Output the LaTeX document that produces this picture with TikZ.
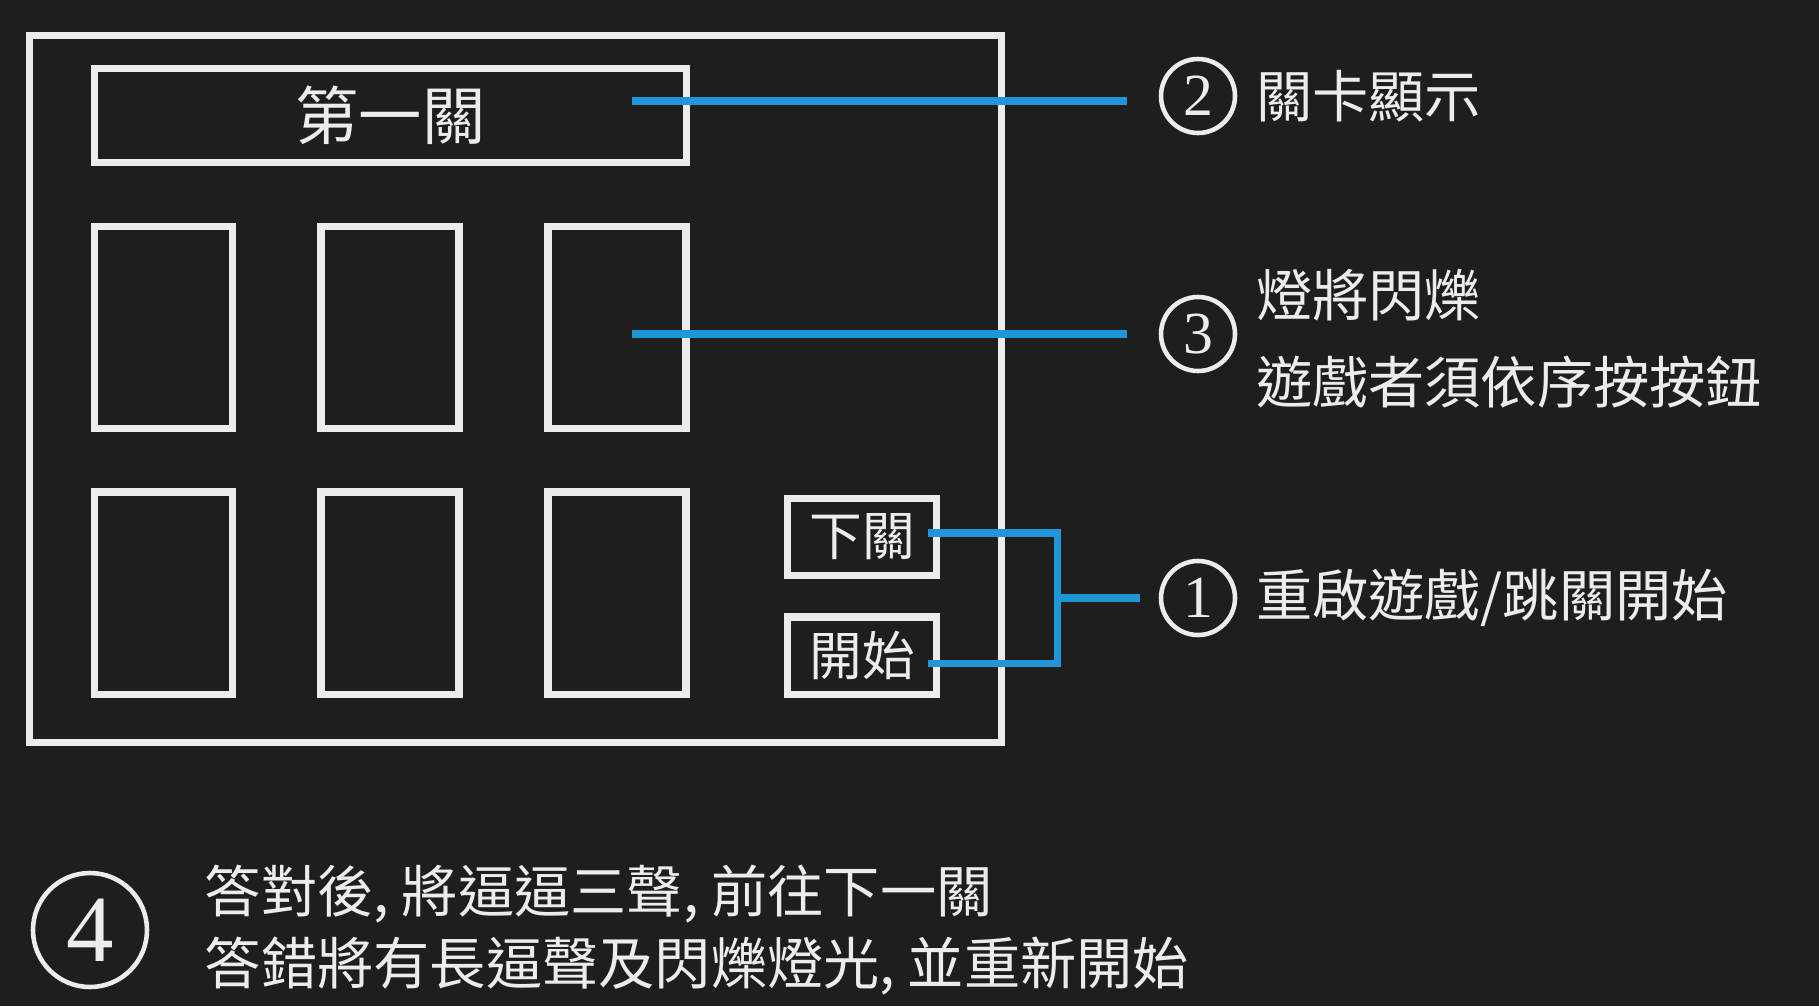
\documentclass[tikz,border=0pt]{standalone}
\usepackage{xcolor}
\usepackage{fontspec}
\newfontfamily\cjk{Noto Sans CJK TC}
\newfontfamily\numfont{Liberation Serif}
\definecolor{board}{RGB}{30,30,30}
\definecolor{chalk}{RGB}{236,236,236}
\definecolor{wireblue}{RGB}{32,150,214}
\usetikzlibrary{calc}
\usetikzlibrary{positioning}

\begin{document}
\begin{tikzpicture}[x=1cm, y=1cm,
    panel/.style={draw=chalk, line width=2pt},
    lamp/.style={panel, minimum width=1.38cm, minimum height=2.02cm},
    key/.style={panel, text=chalk, inner sep=0pt, minimum width=1.49cm, minimum height=0.77cm,
        font=\cjk\fontsize{15}{15}\selectfont},
    wire/.style={draw=wireblue, line width=2pt},
    badge/.style={circle, draw=chalk, line width=1.3pt, text=chalk, inner sep=0pt, minimum size=0.74cm,
        font=\numfont\fontsize{17}{17}\selectfont},
    note/.style={text=chalk, align=left, inner sep=0pt, font=\cjk\fontsize{16}{24.7}\selectfont}]

    \fill [board] (0, 0) rectangle (18.19, 10.06);
    \useasboundingbox (0, 0) rectangle (18.19, 10.06);

    \node [panel, minimum width=9.72cm, minimum height=7.07cm] (box) at (5.155, 6.17) {};
    \node [panel, text=chalk, minimum width=5.92cm, minimum height=0.94cm,
        font=\cjk\fontsize{18}{18}\selectfont] (lvl) at (3.905, 8.905) {第一關};

    \node [lamp] (a1) at (1.635, 6.785) {};
    \node [lamp] (a2) at (3.90, 6.785) {};
    \node [lamp] (a3) at (6.17, 6.785) {};
    \node [lamp] (b1) at (1.635, 4.13) {};
    \node [lamp] (b2) at (3.90, 4.13) {};
    \node [lamp] (b3) at (6.17, 4.13) {};

    \node [key] (nxt) at (8.62, 4.69) {下關};
    \node [key] (go) at (8.62, 3.505) {開始};

    \node [badge] (n2) at (11.98, 9.10) {2};
    \node [badge] (n3) at (11.98, 6.72) {3};
    \node [badge] (n1) at (11.98, 4.08) {1};
    \node [badge, minimum size=1.14cm, font=\numfont\fontsize{27}{27}\selectfont] (n4) at (0.90, 0.76) {4};

    \node [note, right=1.8mm of n2] (t2) {關卡顯示};
    \node [note, right=1.8mm of n3, yshift=-0.5mm] (t3) {燈將閃爍\\遊戲者須依序按按鈕};
    \node [note, right=1.8mm of n1] (t1) {重啟遊戲/跳關開始};
    \node [note, right=5.5mm of n4, font=\cjk\fontsize{16}{20.7}\selectfont] (t4)
        {答對後, 將逼逼三聲, 前往下一關\\答錯將有長逼聲及閃爍燈光, 並重新開始};

    \coordinate (lvl tip) at (6.32, 9.05);
    \coordinate (lamp tip) at (6.32, 6.72);
    \coordinate (nxt tip) at (9.28, 4.73);
    \coordinate (go tip) at (9.28, 3.43);
    \coordinate (fork) at (10.57, 4.08);

    \draw [wire] (lvl tip) -- ([xshift=-3.2mm]n2.west |- lvl tip);
    \draw [wire] (lamp tip) -- ([xshift=-3.2mm]n3.west);
    \draw [wire] (nxt tip) -| (fork) |- (go tip);
    \draw [wire] (fork) -- ([xshift=-1.9mm]n1.west);

\end{tikzpicture}
\end{document}
